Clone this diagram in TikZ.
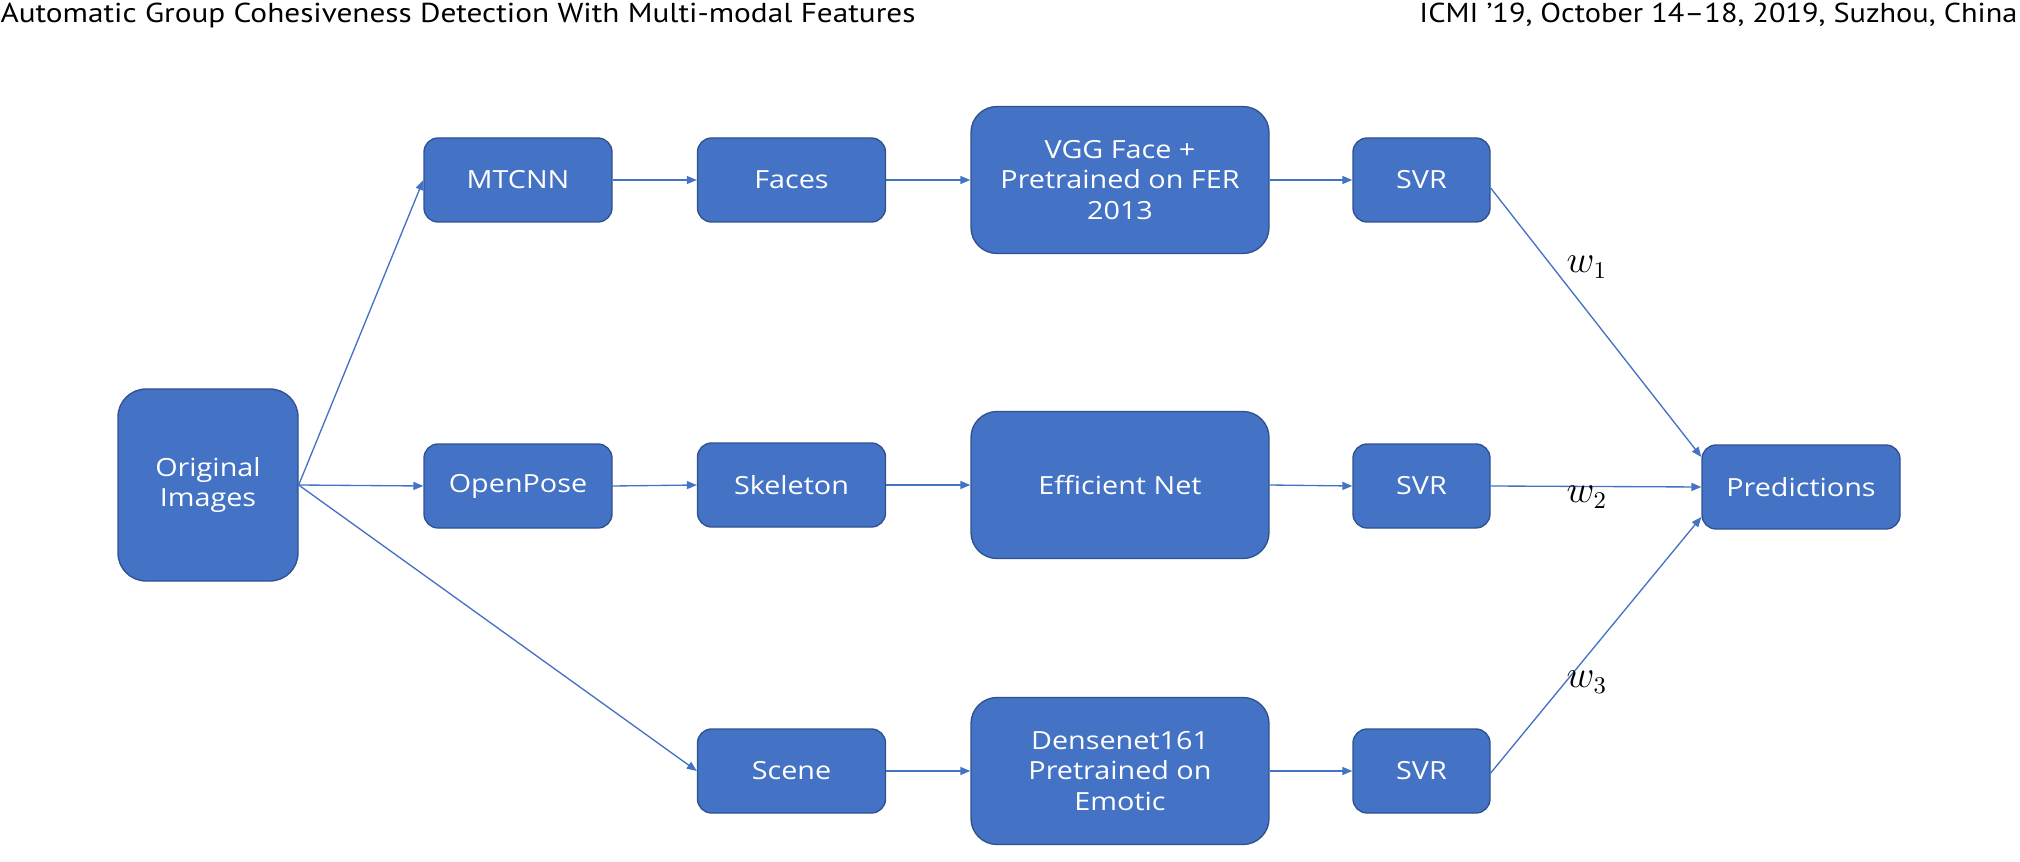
\documentclass[tikz,border=0pt]{standalone}
\usepackage{fontspec}
\usetikzlibrary{arrows.meta}
\newfontfamily\boxfont[FakeStretch=1.15]{Open Sans}
\newfontfamily\hdrfont{PT Sans}
\definecolor{boxblue}{HTML}{4472C4}
\definecolor{boxline}{HTML}{2F528F}
\definecolor{arrowblue}{HTML}{4472C4}
\begin{document}
\begin{tikzpicture}[x=0.375pt,y=-0.375pt,
  blk/.style={draw=boxline, fill=boxblue, line width=0.5pt, text=white, align=center, inner sep=0pt, font=\boxfont\fontsize{9.375}{11.4}\selectfont},
  smallbox/.style={blk, minimum width=70.5pt, minimum height=31.5pt, rounded corners=5.25pt},
  svrbox/.style={blk, minimum width=51.375pt, minimum height=31.5pt, rounded corners=5.25pt},
  predbox/.style={blk, minimum width=74.25pt, minimum height=31.5pt, rounded corners=5.25pt},
  bigbox/.style={blk, minimum width=111.75pt, minimum height=55.125pt, rounded corners=9.75pt},
  origbox/.style={blk, minimum width=67.5pt, minimum height=72pt, rounded corners=10.5pt},
  conn/.style={draw=arrowblue, line width=0.5pt, -{Triangle[length=3.75pt,width=3pt]}},
  wlabel/.style={inner sep=0pt, font=\fontsize{13.5}{15}\selectfont},
  hdr/.style={inner sep=0pt}
]
\useasboundingbox (0,0) rectangle (2020,862);

% header
\node[hdr, anchor=base west] (hl) at (0,23) {\resizebox{343.1pt}{7.3pt}{\hdrfont Automatic Group Cohesiveness Detection With Multi-modal Features}};
\node[hdr, anchor=base east] (hr) at (2018,23) {\resizebox{224.25pt}{7.3pt}{\hdrfont ICMI ’19, October 14–18, 2019, Suzhou, China}};

% nodes
\node[origbox] (orig) at (208,485) {Original\\Images};
\node[smallbox] (mtcnn) at (518,180) {MTCNN};
\node[smallbox] (faces) at (791.5,180) {Faces};
\node[bigbox] (vgg) at (1120,180) {VGG Face +\\Pretrained on FER\\2013};
\node[svrbox] (svr1) at (1421.5,180) {SVR};

\node[smallbox] (openpose) at (518,486) {OpenPose};
\node[smallbox] (skeleton) at (791.5,485) {Skeleton};
\node[bigbox] (eff) at (1120,485) {Efficient Net};
\node[svrbox] (svr2) at (1421.5,486) {SVR};
\node[predbox] (pred) at (1801,487) {Predictions};

\node[smallbox] (scene) at (791.5,771) {Scene};
\node[bigbox] (dense) at (1120,771) {Densenet161\\Pretrained on\\Emotic};
\node[svrbox] (svr3) at (1421.5,771) {SVR};

% connectors
\draw[conn] (orig.east) -- (mtcnn.west);
\draw[conn] (orig.east) -- (openpose.west);
\draw[conn] (orig.east) -- (scene.west);

\draw[conn] (mtcnn.east) -- (faces.west);
\draw[conn] (faces.east) -- (vgg.west);
\draw[conn] (vgg.east) -- (svr1.west);

\draw[conn] (openpose.east) -- (skeleton.west);
\draw[conn] (skeleton.east) -- (eff.west);
\draw[conn] (eff.east) -- (svr2.west);

\draw[conn] (scene.east) -- (dense.west);
\draw[conn] (dense.east) -- (svr3.west);

\draw[conn] ([yshift=-3pt]svr1.east) -- ([yshift=11.25pt]pred.west);
\draw[conn] (svr2.east) -- (pred.west);
\draw[conn] ([yshift=-0.75pt]svr3.east) -- ([yshift=-11.25pt]pred.west);

% weights
\node[wlabel] (w1) at (1587,267) {$w_1$};
\node[wlabel] (w2) at (1587,497) {$w_2$};
\node[wlabel] (w3) at (1587,682) {$w_3$};
\end{tikzpicture}
\end{document}
